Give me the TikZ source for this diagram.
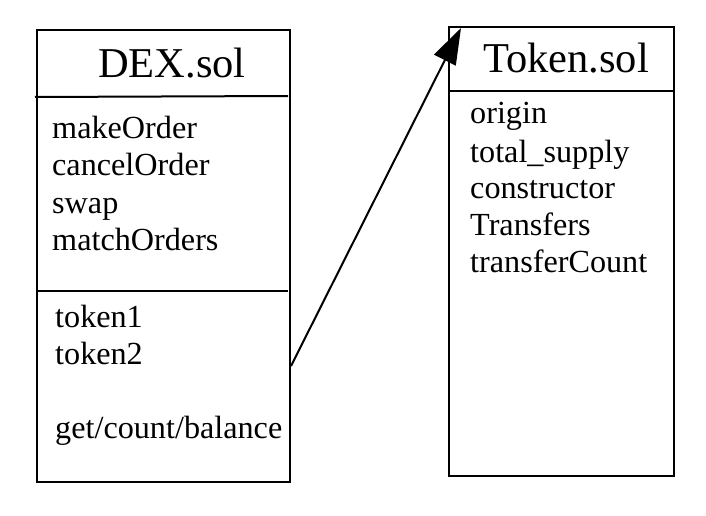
\documentclass[tikz,border=0pt]{standalone}
\usepackage{fontspec}
\setmainfont{Liberation Serif}
\usetikzlibrary{arrows.meta,calc}
\begin{document}
\begin{tikzpicture}[x=1pt,y=-1pt,
  box/.style={draw,line width=2pt,rectangle,inner sep=0pt},
  sep/.style={line width=2pt},
  title/.style={font=\fontsize{42.5}{42.5}\selectfont,inner sep=0pt},
  item/.style={font=\fontsize{32.2}{32.2}\selectfont,anchor=base west,inner sep=0pt},
  link/.style={line width=2pt,-{Triangle[length=36pt,width=24pt]}}]
\useasboundingbox (0,0) rectangle (706,516);
% DEX box
\node[box,minimum width=253pt,minimum height=452pt] (dex) at (163.5,256) {};
\draw[sep] (35,97) coordinate (d1a) -- (288,96) coordinate (d1b);
\draw[sep] (37,291) coordinate (d2a) -- (288,291) coordinate (d2b);
\node[title] (dext) at (172,63) {DEX.sol};
\node[item] (m1) at (52,138) {makeOrder};
\node[item] (m2) at (52,175) {cancelOrder};
\node[item] (m3) at (52,213) {swap};
\node[item] (m4) at (52,250) {matchOrders};
\node[item] (v1) at (55,327) {token1};
\node[item] (v2) at (55,364) {token2};
\node[item] (v3) at (55,438) {get/count/balance};
% Token box
\node[box,minimum width=225pt,minimum height=449pt] (tok) at (561.5,251.5) {};
\draw[sep] (449,91) coordinate (t1a) -- (674,91) coordinate (t1b);
\node[title] (tokt) at (566,58) {Token.sol};
\node[item] (n1) at (470,124) {origin};
\node[item] (n2) at (470,162) {total\_supply};
\node[item] (n3) at (470,198) {constructor};
\node[item] (n4) at (470,235) {Transfers};
\node[item] (n5) at (470,272) {transferCount};
% connector
\coordinate (src) at ($(dex.east)+(0,110)$);
\coordinate (dst) at ($(tok.north west)+(13,2)$);
\draw[link] (src) -- (dst);
\end{tikzpicture}
\end{document}
